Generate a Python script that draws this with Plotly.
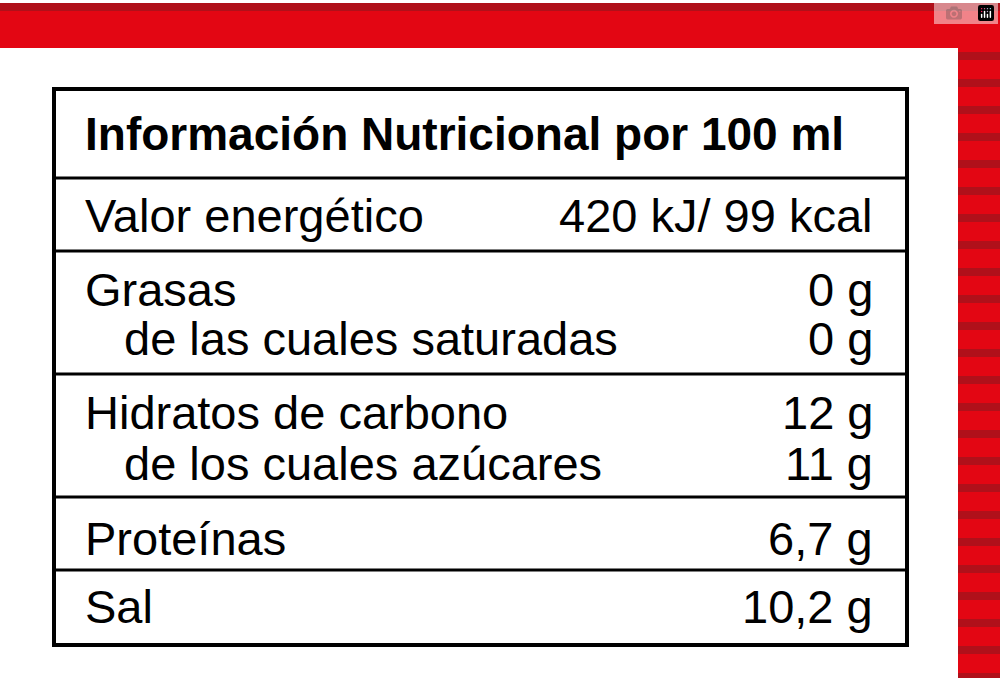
import plotly.graph_objects as go

# table content
title = "Información Nutricional por 100 ml"
labels = ["Valor energético", "Grasas", "de las cuales saturadas",
          "Hidratos de carbono", "de los cuales azúcares", "Proteínas", "Sal"]
values = ["420 kJ/ 99 kcal", "0 g", "0 g", "12 g", "11 g", "6,7 g", "10,2 g"]
indent = [False, False, True, False, True, False, False]
row_y = [215, 289, 338, 412, 463, 538, 606]
separators = [178, 251, 374, 497, 570]

W, H = 1000, 678
RED = "#e30613"
DARK = "#b0101a"

fig = go.Figure()
shapes = []

# red frame: top band and right band with darker stripes
shapes.append(dict(type="rect", x0=0, x1=W, y0=3, y1=48, fillcolor=RED, line_width=0, layer="below"))
shapes.append(dict(type="rect", x0=0, x1=W, y0=3, y1=11, fillcolor=DARK, line_width=0, layer="below"))
shapes.append(dict(type="rect", x0=958, x1=W, y0=48, y1=H, fillcolor=RED, line_width=0, layer="below"))
y = 52
while y < H:
    shapes.append(dict(type="rect", x0=958, x1=W, y0=y, y1=y + 8, fillcolor=DARK, line_width=0, layer="below"))
    y += 27

# table box
shapes.append(dict(type="rect", x0=54, x1=907, y0=89, y1=645, line=dict(color="black", width=4)))
for s in separators:
    shapes.append(dict(type="line", x0=54, x1=907, y0=s, y1=s, line=dict(color="black", width=3)))

font = dict(family="Liberation Sans, Arial, sans-serif", size=47, color="black")
annotations = [dict(x=83, y=134, text="<b>" + title + "</b>", xanchor="left", yanchor="middle",
                    showarrow=False, font=dict(family=font["family"], size=46, color="black"))]
for lab, val, ind, yy in zip(labels, values, indent, row_y):
    annotations.append(dict(x=122 if ind else 83, y=yy, text=lab, xanchor="left", yanchor="middle",
                            showarrow=False, font=font))
    annotations.append(dict(x=875, y=yy, text=val, xanchor="right", yanchor="middle",
                            showarrow=False, font=font))

fig.update_layout(
    width=W, height=H, margin=dict(l=0, r=0, t=0, b=0),
    paper_bgcolor="white", plot_bgcolor="white",
    xaxis=dict(range=[0, W], visible=False, fixedrange=True),
    yaxis=dict(range=[H, 0], visible=False, fixedrange=True),
    shapes=shapes, annotations=annotations, showlegend=False,
)
fig.write_html("out.html", post_script="document.body.style.margin='0';document.body.style.overflow='hidden';")
